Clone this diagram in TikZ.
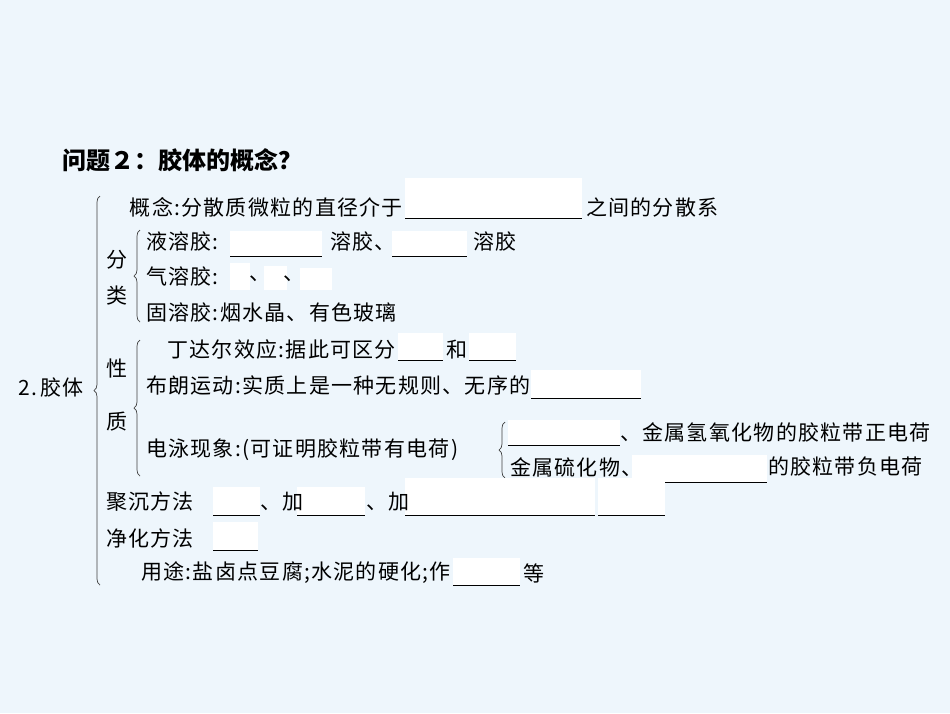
\documentclass[tikz,border=0pt]{standalone}
\usepackage{fontspec}
\newfontfamily\cjk[LetterSpace=6]{Noto Sans CJK SC}
\newfontfamily\cjkt{Noto Sans CJK SC}
\usetikzlibrary{decorations.pathreplacing}
\definecolor{bg}{HTML}{EEF6FC}
\begin{document}
\begin{tikzpicture}[x=1pt,y=-1pt,
  t/.style={anchor=west,inner sep=0pt,font=\cjk\fontsize{21}{21}\selectfont},
  te/.style={t,anchor=east},
  br/.style={decorate,decoration={brace,amplitude=6pt,mirror},line width=0.7pt,draw=black!75}]
\useasboundingbox (0,0) rectangle (950,713);
\fill[bg] (0,0) rectangle (950,713);
\newcommand\blnk[5]{\fill[white] (#1,#3) rectangle (#2,#4); \draw[line width=0.6pt] (#1,#5) -- (#2,#5);}
\newcommand\wbox[4]{\fill[white] (#1,#3) rectangle (#2,#4);}
% title
\node[t,font=\cjkt\bfseries\fontsize{24}{24}\selectfont] (title) at (62,160) {问题２：胶体的概念？};
\node[t] (root) at (18,388) {2.\,胶体};
% main brace
\coordinate (m1) at (100,196); \coordinate (m2) at (100,585);
\draw[br] (m1) -- (m2);
% 概念
\blnk{405}{582}{178}{218}{218}
\node[te] (gn) at (403,207) {概念:分散质微粒的直径介于};
\node[t] (gn2) at (586,207) {之间的分散系};
% 分类
\node[t] (fen) at (106,260) {分}; \node[t] (lei) at (106,296) {类};
\coordinate (f1) at (140,230); \coordinate (f2) at (140,322); \draw[br] (f1) -- (f2);
\blnk{230}{322}{231}{256}{256}\blnk{392}{467}{231}{256}{256}
\node[t] (ye) at (146,242) {液溶胶:};
\node[t] (ye2) at (330,242) {溶胶、};
\node[t] (ye3) at (473,242) {溶胶};
\wbox{230}{250}{263}{290}\wbox{264}{287}{266}{290}\wbox{300}{332}{268}{290}
\node[t] (qi) at (146,277) {气溶胶:};
\node[t] (qd1) at (249,279) {、}; \node[t] (qd2) at (283,279) {、};
\node[t] (gu) at (146,313) {固溶胶:烟水晶、有色玻璃};
% 性质
\node[t] (xing) at (106,368) {性}; \node[t] (zhi) at (106,422) {质};
\coordinate (x1) at (140,340); \coordinate (x2) at (140,476); \draw[br] (x1) -- (x2);
\blnk{398}{443}{333}{360}{360}\blnk{469}{516}{333}{360}{360}
\node[te] (dd) at (396,350) {丁达尔效应:据此可区分};
\node[t] (he) at (446,350) {和};
\blnk{531}{641}{370}{398}{398}
\node[t] (bl) at (146,385) {布朗运动:实质上是一种无规则、无序的};
\node[t] (dy) at (146,450) {电泳现象:(可证明胶粒带有电荷)};
\coordinate (d1) at (505,422); \coordinate (d2) at (505,478); \draw[br] (d1) -- (d2);
\blnk{508}{620}{420}{445}{445}
\node[t] (dy1) at (620,432) {、金属氢氧化物的胶粒带正电荷};
\blnk{632}{767}{455}{482}{482}
\node[t] (dy2) at (510,467) {金属硫化物、};
\node[t] (dy3) at (768,467) {的胶粒带负电荷};
% 聚沉
\blnk{213}{260}{487}{515}{515}\blnk{297}{365}{487}{515}{515}
\blnk{405}{595}{478}{515}{515}\blnk{598}{665}{478}{515}{515}
\node[t] (jc) at (106,502) {聚沉方法};
\node[t] (jc2) at (260,502) {、加};
\node[t] (jc3) at (366,502) {、加};
\blnk{213}{258}{522}{550}{550}
\node[t] (jh) at (106,538) {净化方法};
\blnk{453}{520}{558}{585}{585}
\node[te] (yt) at (451,573) {用途:盐卤点豆腐;水泥的硬化;作};
\node[t] (deng) at (523,573) {等};
\end{tikzpicture}
\end{document}
